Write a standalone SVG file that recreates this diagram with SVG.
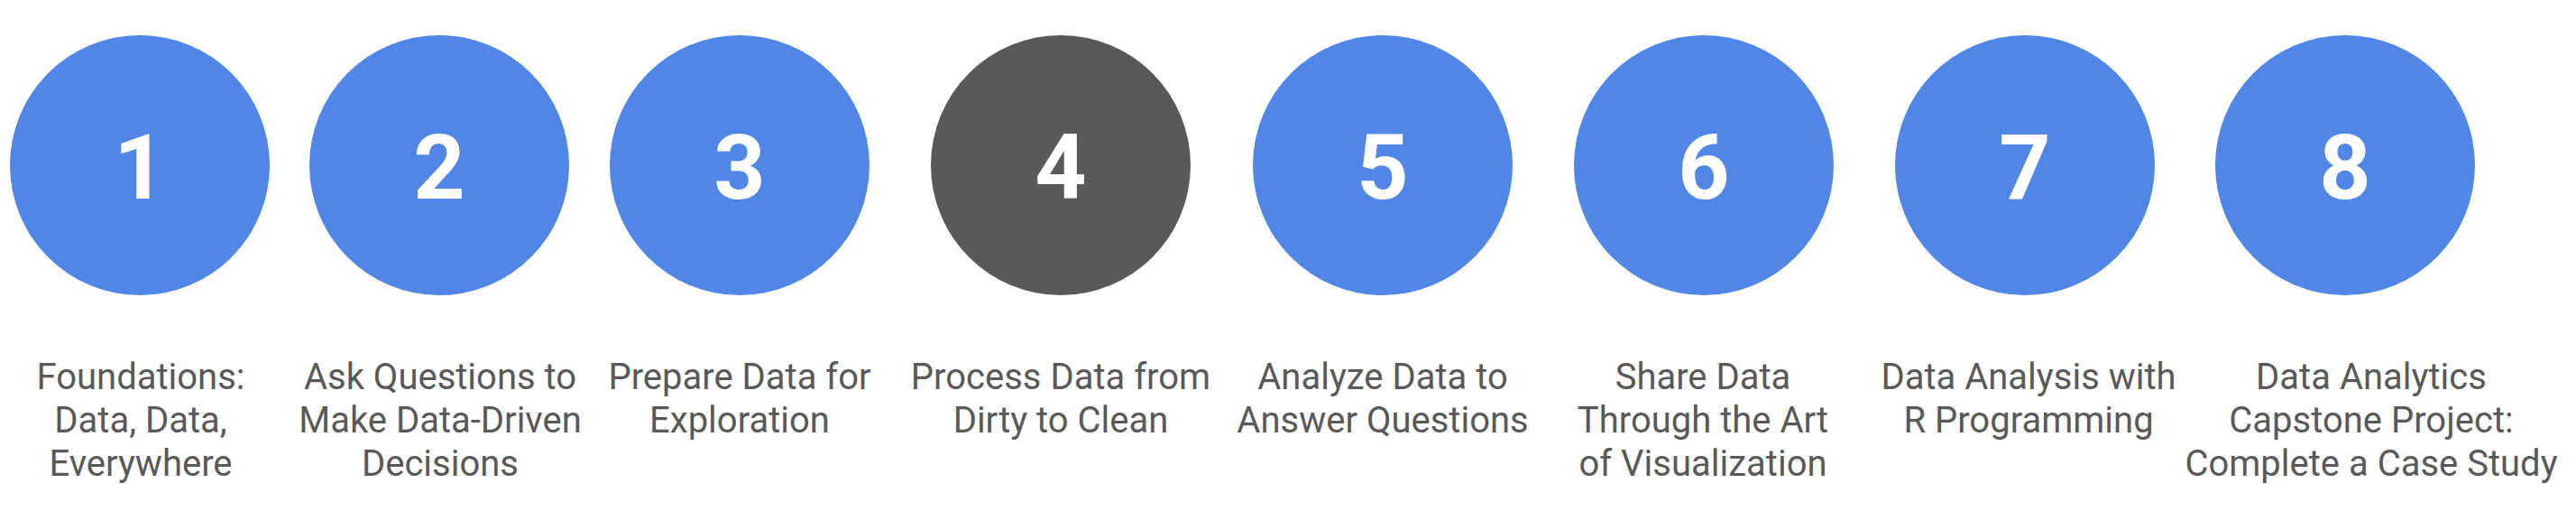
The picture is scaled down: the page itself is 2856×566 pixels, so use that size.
<svg xmlns="http://www.w3.org/2000/svg" width="2856" height="566" viewBox="0 0 2856 566">
<style>
.c{fill:#5086e8}
.c4{fill:#595959}
.n{font-family:Roboto,"Liberation Sans",sans-serif;font-size:100px;font-weight:700;fill:#ffffff;text-anchor:middle}
.l{font-family:Roboto,"Liberation Sans",sans-serif;font-size:40px;fill:#595959;text-anchor:middle}
</style>
<rect width="2856" height="566" fill="#ffffff"/>
<g id="connectors"></g>
<g id="node1"><circle class="c" cx="155" cy="183" r="144"/><text class="n" x="155" y="220">1</text>
<text class="l" x="156"><tspan x="156" y="431">Foundations:</tspan><tspan x="156" y="479">Data, Data,</tspan><tspan x="156" y="527">Everywhere</tspan></text></g>
<g id="node2"><circle class="c" cx="487" cy="183" r="144"/><text class="n" x="487" y="220">2</text>
<text class="l"><tspan x="488" y="431">Ask Questions to</tspan><tspan x="488" y="479">Make Data-Driven</tspan><tspan x="488" y="527">Decisions</tspan></text></g>
<g id="node3"><circle class="c" cx="820" cy="183" r="144"/><text class="n" x="820" y="220">3</text>
<text class="l"><tspan x="820" y="431">Prepare Data for</tspan><tspan x="820" y="479">Exploration</tspan></text></g>
<g id="node4"><circle class="c4" cx="1176" cy="183" r="144"/><text class="n" x="1176" y="220">4</text>
<text class="l"><tspan x="1176" y="431">Process Data from</tspan><tspan x="1176" y="479">Dirty to Clean</tspan></text></g>
<g id="node5"><circle class="c" cx="1533" cy="183" r="144"/><text class="n" x="1533" y="220">5</text>
<text class="l"><tspan x="1533" y="431">Analyze Data to</tspan><tspan x="1533" y="479">Answer Questions</tspan></text></g>
<g id="node6"><circle class="c" cx="1889" cy="183" r="144"/><text class="n" x="1889" y="220">6</text>
<text class="l"><tspan x="1888" y="431">Share Data</tspan><tspan x="1888" y="479">Through the Art</tspan><tspan x="1888" y="527">of Visualization</tspan></text></g>
<g id="node7"><circle class="c" cx="2245" cy="183" r="144"/><text class="n" x="2245" y="220">7</text>
<text class="l"><tspan x="2249" y="431">Data Analysis with</tspan><tspan x="2249" y="479">R Programming</tspan></text></g>
<g id="node8"><circle class="c" cx="2600" cy="183" r="144"/><text class="n" x="2600" y="220">8</text>
<text class="l"><tspan x="2629" y="431">Data Analytics</tspan><tspan x="2629" y="479">Capstone Project:</tspan><tspan x="2629" y="527">Complete a Case Study</tspan></text></g>
</svg>
